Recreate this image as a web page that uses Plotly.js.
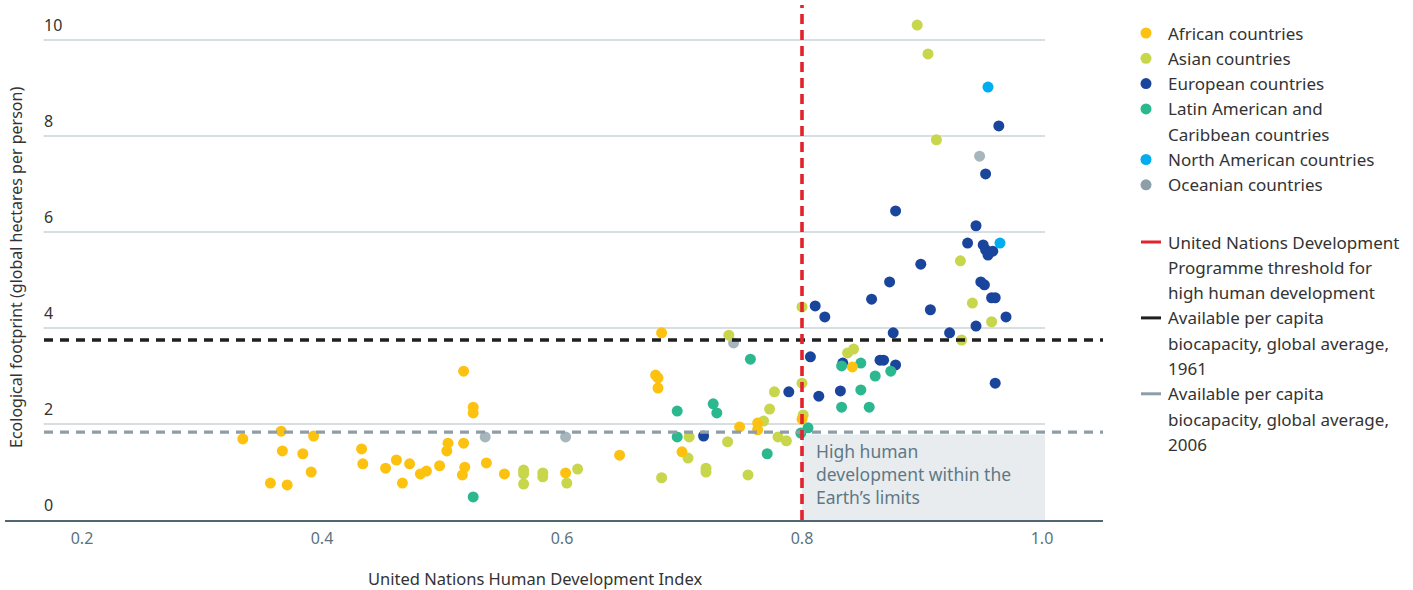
<!DOCTYPE html>
<html><head><meta charset="utf-8">
<script src="https://cdn.plot.ly/plotly-3.0.1.min.js"></script>
<style>html,body{margin:0;padding:0;background:#fff}</style>
</head><body><div id="chart" style="width:1413px;height:590px"></div>
<script>
// ---- Data ----
const africanHDI = [0.334,0.357,0.366,0.367,0.371,0.384,0.391,0.393,0.433,0.434,0.453,0.462,0.467,0.473,0.482,0.487,0.498,0.505,0.504,0.518,0.519,0.517,0.518,0.526,0.526,0.537,0.552,0.603,0.648,0.678,0.680,0.680,0.683,0.700,0.748,0.763,0.763,0.800,0.842];
const africanEF  = [1.69,0.77,1.85,1.44,0.73,1.38,1.00,1.75,1.48,1.17,1.08,1.25,0.77,1.17,0.96,1.02,1.13,1.60,1.44,1.60,1.10,0.94,3.10,2.35,2.23,1.19,0.96,0.98,1.35,3.02,2.96,2.75,3.90,1.42,1.94,2.02,1.88,2.10,3.19];

const asianHDI = [0.896,0.905,0.912,0.932,0.942,0.958,0.933,0.838,0.843,0.800,0.800,0.801,0.739,0.777,0.773,0.768,0.780,0.787,0.706,0.738,0.705,0.720,0.720,0.683,0.755,0.568,0.568,0.568,0.584,0.584,0.604,0.613];
const asianEF  = [10.31,9.71,7.92,5.40,4.52,4.13,3.75,3.48,3.56,4.44,2.85,2.19,3.85,2.67,2.31,2.06,1.73,1.65,1.73,1.63,1.29,1.08,1.00,0.88,0.94,1.04,0.96,0.75,0.98,0.90,0.77,1.06];

const europeanHDI = [0.964,0.953,0.878,0.945,0.938,0.951,0.953,0.955,0.959,0.899,0.873,0.858,0.949,0.952,0.958,0.961,0.907,0.970,0.945,0.923,0.876,0.865,0.868,0.878,0.961,0.811,0.819,0.807,0.834,0.789,0.814,0.832,0.718];
const europeanEF  = [8.21,7.21,6.44,6.13,5.77,5.73,5.63,5.52,5.60,5.33,4.96,4.60,4.96,4.90,4.63,4.63,4.38,4.23,4.04,3.90,3.90,3.33,3.33,3.23,2.85,4.46,4.23,3.40,3.27,2.67,2.58,2.69,1.75];

const latinHDI = [0.833,0.849,0.861,0.874,0.849,0.833,0.856,0.805,0.799,0.757,0.726,0.729,0.696,0.696,0.771,0.526];
const latinEF  = [3.21,3.27,3.00,3.10,2.71,2.35,2.35,1.92,1.81,3.35,2.42,2.23,2.27,1.73,1.38,0.48];

const northAmHDI = [0.955,0.965];
const northAmEF  = [9.02,5.77];

const oceanianHDI = [0.948,0.743,0.536,0.603];
const oceanianEF  = [7.58,3.69,1.73,1.73];

const hdiThreshold = 0.8;
const biocap1961 = 3.75;
const biocap2006 = 1.83;
const zoneTop = 1.78;

const xTickVals = [0.2,0.4,0.6,0.8,1.0];
const xTickText = ['0.2','0.4','0.6','0.8','1.0'];
const yTickVals = [0,2,4,6,8,10];

const seriesNames = ['African countries','Asian countries','European countries','Latin American and<br>Caribbean countries','North American countries','Oceanian countries'];
const lineNames = ['United Nations Development<br>Programme threshold for<br>high human development','Available per capita<br>biocapacity, global average,<br>1961','Available per capita<br>biocapacity, global average,<br>2006'];

// ---- Styles ----
const FONT = 'Noto Sans, Open Sans, sans-serif';
const colors = {
  african:'#fdc210', asian:'#c8d64b', european:'#1a459d',
  latin:'#2cb88f', northAm:'#00adef', oceanian:'#a6b6bc', oceanianLeg:'#8c9ea8'
};
const lineColors = ['#e3222b','#1f1f1f','#8d9ea7'];

function sc(x,y,c,name){
  return {type:'scatter', mode:'markers', x:x, y:y, name:name, showlegend:false,
    marker:{color:c, size:11, line:{width:0}}, hoverinfo:'x+y+name'};
}
const traces = [
  sc(oceanianHDI, oceanianEF, colors.oceanian, 'Oceanian countries'),
  sc(europeanHDI, europeanEF, colors.european, 'European countries'),
  sc(asianHDI, asianEF, colors.asian, 'Asian countries'),
  sc(latinHDI, latinEF, colors.latin, 'Latin American and Caribbean countries'),
  sc(africanHDI, africanEF, colors.african, 'African countries'),
  sc(northAmHDI, northAmEF, colors.northAm, 'North American countries')
];

// plot area geometry (pixels)
const W=1413, H=590, ML=5, MR=310, MT=5, MB=70;
const PW = W-ML-MR, PH = H-MT-MB;
const px = p => (p-ML)/PW;
const py = p => (H-MB-p)/PH;

const shapes = [];
const annotations = [];

// zone
shapes.push({type:'rect', xref:'x', yref:'y', x0:hdiThreshold, x1:1.0025, y0:0, y1:zoneTop,
  fillcolor:'#e8ecef', line:{width:0}, layer:'below'});
// gridlines
yTickVals.forEach(v=>{
  if(v>0) shapes.push({type:'line', xref:'x', yref:'y', x0:0.168, x1:1.0025, y0:v, y1:v,
    line:{color:'#cbd5da', width:1.7}, layer:'below'});
  annotations.push({xref:'x', yref:'y', x:0.167, y:v, text:String(v), showarrow:false,
    xanchor:'left', yanchor:'bottom', yshift:2, font:{family:FONT,size:16,color:'#333333'}});
});
// reference lines
shapes.push({type:'line', xref:'paper', yref:'y', x0:px(44), x1:1, y0:biocap2006, y1:biocap2006,
  line:{color:lineColors[2], width:3.2, dash:'9px,7px'}, layer:'above'});
shapes.push({type:'line', xref:'paper', yref:'y', x0:px(44), x1:1, y0:biocap1961, y1:biocap1961,
  line:{color:lineColors[1], width:3.6, dash:'9px,7px'}, layer:'above'});
shapes.push({type:'line', xref:'x', yref:'paper', x0:hdiThreshold, x1:hdiThreshold, y0:0, y1:1,
  line:{color:lineColors[0], width:3.6, dash:'10px,6px'}, layer:'above'});

// zone text
['High human','development within the','Earth\u2019s limits'].forEach((t,i)=>{
  annotations.push({xref:'paper', yref:'paper', x:px(814), y:py(451+23*i), text:t, showarrow:false,
    xanchor:'left', yanchor:'middle', font:{family:FONT,size:17.5,color:'#5f7886'}});
});

// axis titles
annotations.push({xref:'paper', yref:'paper', x:px(535), y:py(578), text:'United Nations Human Development Index',
  showarrow:false, xanchor:'center', yanchor:'middle', font:{family:FONT,size:16.5,color:'#333333'}});
annotations.push({xref:'paper', yref:'paper', x:px(16), y:py(268), text:'Ecological footprint (global hectares per person)',
  showarrow:false, textangle:-90, xanchor:'center', yanchor:'middle', font:{family:FONT,size:16,color:'#333333'}});

// custom legend
const legColors = [colors.african, colors.asian, colors.european, colors.latin, colors.northAm, colors.oceanianLeg];
const LX_MARK = 1146, LX_TEXT = 1166, LINE_H = 25.3;
let yCur = 33;
seriesNames.forEach((n,i)=>{
  shapes.push({type:'circle', xref:'paper', yref:'paper', xsizemode:'pixel', ysizemode:'pixel',
    xanchor:px(LX_MARK), yanchor:py(yCur), x0:-5.5, x1:5.5, y0:-5.5, y1:5.5,
    fillcolor:legColors[i], line:{width:0}});
  n.split('<br>').forEach((ln,j)=>{
    annotations.push({xref:'paper', yref:'paper', x:px(LX_TEXT), y:py(yCur+j*LINE_H), text:ln, showarrow:false,
      xanchor:'left', yanchor:'middle', font:{family:FONT,size:17,color:'#333333'}});
  });
  yCur += LINE_H*n.split('<br>').length;
});
yCur = 242;
lineNames.forEach((n,i)=>{
  shapes.push({type:'line', xref:'paper', yref:'paper', x0:px(1141), x1:px(1161), y0:py(yCur), y1:py(yCur),
    line:{color:lineColors[i], width:3}});
  n.split('<br>').forEach((ln,j)=>{
    annotations.push({xref:'paper', yref:'paper', x:px(LX_TEXT), y:py(yCur+j*LINE_H), text:ln, showarrow:false,
      xanchor:'left', yanchor:'middle', font:{family:FONT,size:17,color:'#333333'}});
  });
  yCur += LINE_H*n.split('<br>').length;
});

const layout = {
  width:W, height:H, margin:{l:ML, r:MR, t:MT, b:MB},
  paper_bgcolor:'#ffffff', plot_bgcolor:'#ffffff',
  showlegend:false,
  xaxis:{range:[0.2-77/1200, 0.2+1021/1200], tickvals:xTickVals, ticktext:xTickText,
    showgrid:false, zeroline:false, showline:true, linecolor:'#506773', linewidth:2.2,
    ticks:'', ticklabelstandoff:3, tickfont:{family:FONT,size:16,color:'#5a7381'}, fixedrange:true},
  yaxis:{range:[0, 515/48], showgrid:false, zeroline:false, showticklabels:false, fixedrange:true},
  shapes:shapes, annotations:annotations
};
Plotly.newPlot('chart', traces, layout, {displayModeBar:false, staticPlot:true});
</script></body></html>
